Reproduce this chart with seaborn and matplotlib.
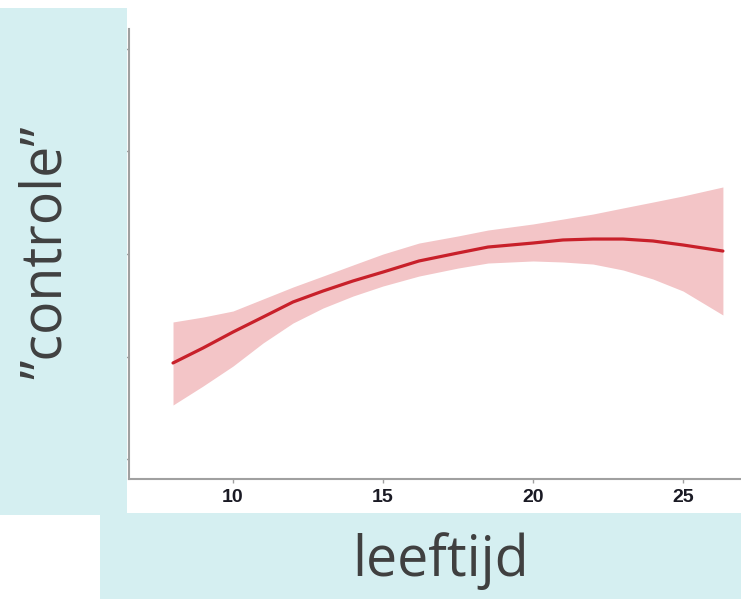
import pandas as pd
import matplotlib.pyplot as plt
import seaborn as sns
from matplotlib.patches import Rectangle

# ── DATA ───────────────────────────────────────────────
age = [8.0, 9.0, 10.0, 11.0, 12.0, 13.0, 14.0, 15.0, 16.2, 17.5,
       18.5, 20.0, 21.0, 22.0, 23.0, 24.0, 25.0, 26.33]
fit = [0.937, 1.083, 1.239, 1.385, 1.532, 1.639, 1.737, 1.824, 1.932, 2.010,
       2.068, 2.107, 2.137, 2.146, 2.146, 2.127, 2.088, 2.029]
upper = [1.337, 1.385, 1.444, 1.561, 1.678, 1.785, 1.893, 2.000, 2.107, 2.176,
         2.234, 2.293, 2.341, 2.390, 2.449, 2.507, 2.566, 2.654]
lower = [0.527, 0.712, 0.907, 1.132, 1.327, 1.473, 1.590, 1.688, 1.785, 1.863,
         1.912, 1.932, 1.922, 1.902, 1.844, 1.756, 1.639, 1.405]

x_ticks = [10, 15, 20, 25]
y_ticks = [0, 1, 2, 3, 4]

df = pd.DataFrame({'leeftijd': age, 'controle': fit, 'hi': upper, 'lo': lower})

# ── STYLE ──────────────────────────────────────────────
sns.set_style('white')
box_col = '#d5eff1'
text_col = '#404040'
spine_col = '#a0a0a0'

fig = plt.figure(figsize=(7.41, 5.99), dpi=100)

# label boxes behind everything
fig.patches.append(Rectangle((0, 0.1402), 0.1714, 0.8464, transform=fig.transFigure,
                             facecolor=box_col, edgecolor='none', zorder=0))
fig.patches.append(Rectangle((0.135, 0), 0.865, 0.1436, transform=fig.transFigure,
                             facecolor=box_col, edgecolor='none', zorder=0))

ax = fig.add_axes([129 / 741, 0.2003, 1 - 129 / 741, 0.9516 - 0.2003])
ax.patch.set_alpha(0)

# ── PLOT ───────────────────────────────────────────────
ax.fill_between(df['leeftijd'], df['lo'], df['hi'], color='#f3c5c7', linewidth=0)
sns.lineplot(data=df, x='leeftijd', y='controle', ax=ax, color='#c8202a', linewidth=2.3)

ax.set_xlim(6.533, 26.933)
ax.set_ylim(-0.195, 4.195)
ax.set_xticks(x_ticks)
ax.set_yticks(y_ticks)
ax.set_yticklabels([])
ax.set_xlabel('')
ax.set_ylabel('')

for side in ['top', 'right']:
    ax.spines[side].set_visible(False)
for side in ['left', 'bottom']:
    ax.spines[side].set_color(spine_col)
    ax.spines[side].set_linewidth(1.5)

ax.tick_params(axis='both', direction='out', length=3, width=1, color=spine_col,
               left=True, bottom=True)
ax.tick_params(axis='x', pad=4, labelsize=14, labelcolor='#1a1a24')
for lab in ax.get_xticklabels():
    lab.set_fontfamily('Liberation Sans')
    lab.set_fontweight('bold')

# ── AXIS TITLES IN BOXES ───────────────────────────────
fig.text(46 / 741, 1 - 252 / 599, '\u201dcontrole\u201d', rotation=90,
         ha='center', va='center', fontsize=40, color=text_col, family='Open Sans')
fig.text(441 / 741, 1 - 561 / 599, 'leeftijd',
         ha='center', va='center', fontsize=40, color=text_col, family='Open Sans')

plt.savefig('out.png', dpi=100)
